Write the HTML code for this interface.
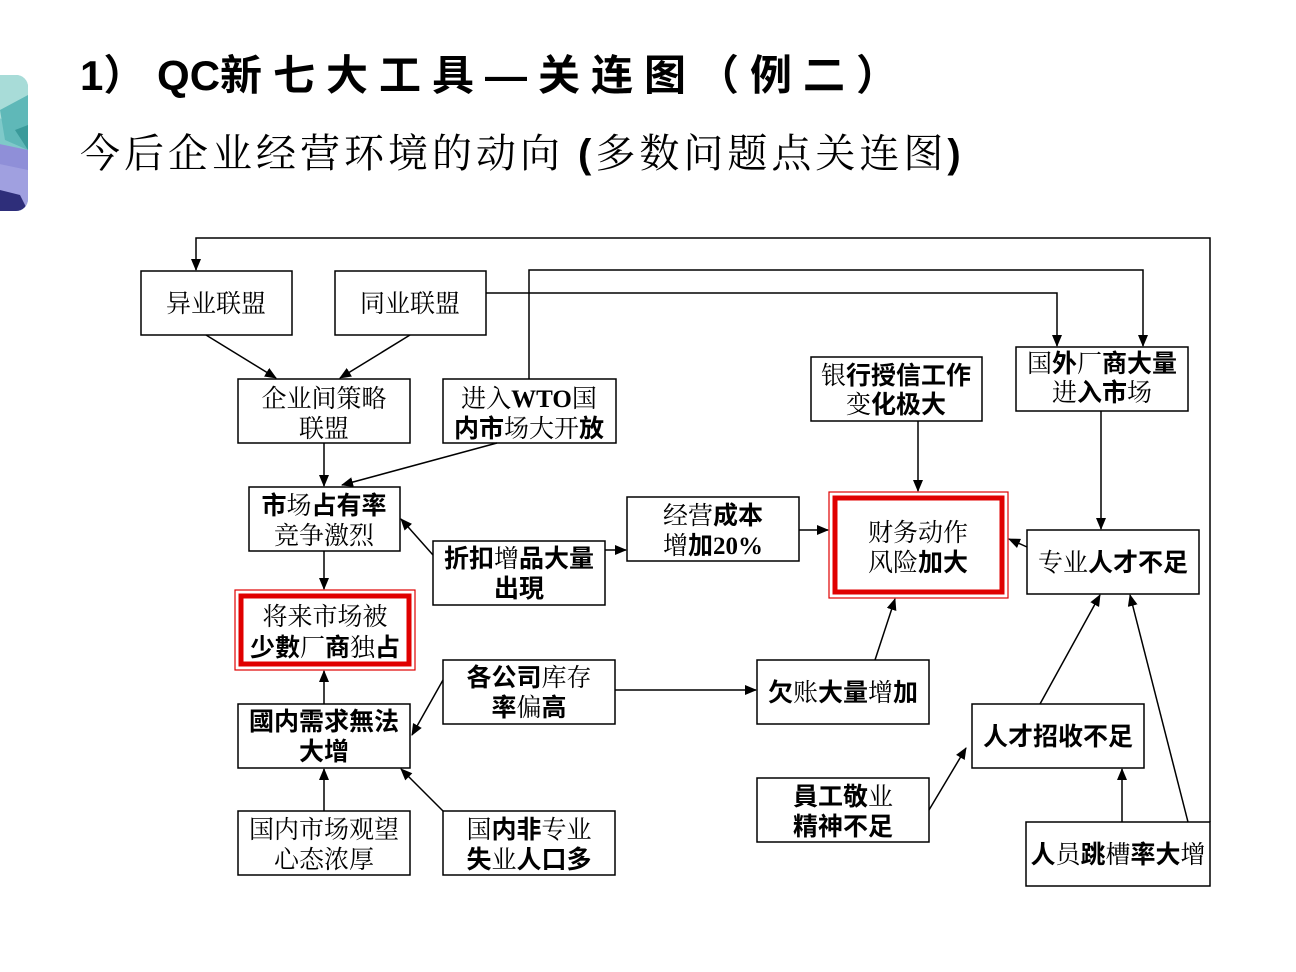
<!DOCTYPE html>
<html><head><meta charset="utf-8"><style>
html,body{margin:0;padding:0;background:#fff;width:1296px;height:972px;overflow:hidden}
.r{font-family:"Liberation Serif","Noto Serif CJK SC",serif;font-weight:normal}
.b{font-family:"Liberation Sans","Noto Sans CJK SC",sans-serif;font-weight:bold}
text{font-size:25px;fill:#000}
</style></head><body>
<svg width="1296" height="972" viewBox="0 0 1296 972" xmlns="http://www.w3.org/2000/svg">
<defs>
<marker id="a" markerWidth="12" markerHeight="10" refX="11" refY="5" orient="auto" markerUnits="userSpaceOnUse">
<path d="M0,0 L12,5 L0,10 z" fill="#000"/></marker>
<clipPath id="dc"><rect x="-20" y="75" width="48" height="136" rx="12"/></clipPath>
</defs>
<g clip-path="url(#dc)">
<rect x="-20" y="75" width="48" height="136" fill="#7fc9c9"/>
<polygon points="-20,75 28,75 28,130 -20,110" fill="#a8dcd8"/>
<polygon points="0,110 28,95 28,150 5,140" fill="#5fb8b8"/>
<polygon points="15,130 28,125 28,150" fill="#3a9a9a"/>
<polygon points="-20,140 28,150 28,180 -20,175" fill="#8f8fd8"/>
<polygon points="-20,160 28,170 28,211 -20,211" fill="#a0a0e0"/>
<polygon points="-20,185 20,195 28,211 -20,211" fill="#2e2e7a"/>
</g>
<text x="80" y="90" class="b" style="font-size:42px">1） QC<tspan style="letter-spacing:11px">新七大工具—关连图（例二）</tspan></text>
<text x="80" y="167" class="r" style="font-size:40px;letter-spacing:4px">今后企业经营环境的动向 <tspan class="b">(</tspan>多数问题点关连图<tspan class="b">)</tspan></text>

<g fill="none" stroke="#000" stroke-width="1.5">
<rect x="141" y="271" width="151" height="64"/>
<rect x="335" y="271" width="151" height="64"/>
<rect x="238" y="379" width="172" height="64"/>
<rect x="443" y="379" width="173" height="64"/>
<rect x="249" y="487" width="151" height="64"/>
<rect x="433" y="541" width="172" height="64"/>
<rect x="627" y="497" width="172" height="64"/>
<rect x="811" y="357" width="171" height="64"/>
<rect x="1016" y="347" width="172" height="64"/>
<rect x="1027" y="530" width="172" height="64"/>
<rect x="443" y="660" width="172" height="64"/>
<rect x="757" y="660" width="172" height="64"/>
<rect x="238" y="704" width="172" height="64"/>
<rect x="972" y="704" width="172" height="64"/>
<rect x="757" y="778" width="172" height="64"/>
<rect x="238" y="811" width="172" height="64"/>
<rect x="443" y="811" width="172" height="64"/>
<rect x="1026" y="822" width="184" height="64"/>
</g>
<g fill="none" stroke="#e00000">
<rect x="235" y="590" width="180" height="80" stroke-width="1.2"/>
<rect x="241" y="596" width="168" height="68" stroke-width="5"/>
<rect x="829" y="492" width="179" height="106" stroke-width="1.2"/>
<rect x="835" y="498" width="167" height="94" stroke-width="5"/>
</g>

<g fill="none" stroke="#000" stroke-width="1.5" marker-end="url(#a)">
<polyline points="1210,822 1210,238 196,238 196,270"/>
<polyline points="529,379 529,270 1143,270 1143,346"/>
<polyline points="486,293 1057,293 1057,346"/>
<line x1="206" y1="335" x2="276" y2="378"/>
<line x1="410" y1="335" x2="340" y2="378"/>
<line x1="324" y1="443" x2="324" y2="486"/>
<line x1="497" y1="443" x2="342" y2="485"/>
<line x1="324" y1="551" x2="324" y2="589"/>
<line x1="433" y1="555" x2="401" y2="519"/>
<line x1="605" y1="550" x2="626" y2="550"/>
<line x1="799" y1="530" x2="828" y2="530"/>
<line x1="918" y1="421" x2="918" y2="491"/>
<line x1="1101" y1="411" x2="1101" y2="529"/>
<line x1="1027" y1="547" x2="1009" y2="539"/>
<line x1="875" y1="660" x2="895" y2="599"/>
<line x1="615" y1="690" x2="756" y2="690"/>
<line x1="443" y1="680" x2="412" y2="735"/>
<line x1="324" y1="704" x2="324" y2="671"/>
<line x1="324" y1="811" x2="324" y2="769"/>
<line x1="443" y1="811" x2="401" y2="769"/>
<line x1="929" y1="810" x2="966" y2="748"/>
<line x1="1040" y1="704" x2="1100" y2="595"/>
<line x1="1188" y1="822" x2="1130" y2="595"/>
<line x1="1122" y1="822" x2="1122" y2="769"/>
</g>

<g text-anchor="middle">
<text x="216" y="312" class="r">异业联盟</text>
<text x="410" y="312" class="r">同业联盟</text>
<text x="324" y="407" class="r">企业间策略</text>
<text x="324" y="437" class="r">联盟</text>
<text x="529" y="407" class="r">进入<tspan class="r" style="font-weight:bold">WTO</tspan>国</text>
<text x="529" y="437"><tspan class="b">内市</tspan><tspan class="r">场大开</tspan><tspan class="b">放</tspan></text>
<text x="324" y="514"><tspan class="b">市</tspan><tspan class="r">场</tspan><tspan class="b">占有率</tspan></text>
<text x="324" y="544" class="r">竞争激烈</text>
<text x="325" y="625" class="r">将来市场被</text>
<text x="325" y="656"><tspan class="b">少數</tspan><tspan class="r">厂</tspan><tspan class="b">商</tspan><tspan class="r">独</tspan><tspan class="b">占</tspan></text>
<text x="519" y="567"><tspan class="b">折扣</tspan><tspan class="r">增</tspan><tspan class="b">品大量</tspan></text>
<text x="519" y="597" class="b">出現</text>
<text x="713" y="524"><tspan class="r">经营</tspan><tspan class="b">成本</tspan></text>
<text x="713" y="554"><tspan class="r">增</tspan><tspan class="b">加</tspan><tspan class="r" style="font-weight:bold">20%</tspan></text>
<text x="918" y="541" class="r">财务动作</text>
<text x="918" y="571"><tspan class="r">风险</tspan><tspan class="b">加大</tspan></text>
<text x="896" y="384"><tspan class="r">银</tspan><tspan class="b">行授信工作</tspan></text>
<text x="896" y="413"><tspan class="r">变</tspan><tspan class="b">化极大</tspan></text>
<text x="1102" y="372"><tspan class="r">国</tspan><tspan class="b">外</tspan><tspan class="r">厂</tspan><tspan class="b">商大量</tspan></text>
<text x="1102" y="401"><tspan class="r">进</tspan><tspan class="b">入市</tspan><tspan class="r">场</tspan></text>
<text x="1113" y="571"><tspan class="r">专业</tspan><tspan class="b">人才不足</tspan></text>
<text x="529" y="686"><tspan class="b">各公司</tspan><tspan class="r">库存</tspan></text>
<text x="529" y="716"><tspan class="b">率</tspan><tspan class="r">偏</tspan><tspan class="b">高</tspan></text>
<text x="843" y="701"><tspan class="b">欠</tspan><tspan class="r">账</tspan><tspan class="b">大量</tspan><tspan class="r">增</tspan><tspan class="b">加</tspan></text>
<text x="324" y="730" class="b">國内需求無法</text>
<text x="324" y="760" class="b">大增</text>
<text x="1058" y="745" class="b">人才招收不足</text>
<text x="843" y="805"><tspan class="b">員工敬</tspan><tspan class="r">业</tspan></text>
<text x="843" y="835" class="b">精神不足</text>
<text x="324" y="838" class="r">国内市场观望</text>
<text x="324" y="868" class="r">心态浓厚</text>
<text x="529" y="838"><tspan class="r">国</tspan><tspan class="b">内非</tspan><tspan class="r">专业</tspan></text>
<text x="529" y="868"><tspan class="b">失</tspan><tspan class="r">业</tspan><tspan class="b">人口多</tspan></text>
<text x="1118" y="863"><tspan class="b">人</tspan><tspan class="r">员</tspan><tspan class="b">跳</tspan><tspan class="r">槽</tspan><tspan class="b">率大</tspan><tspan class="r">增</tspan></text>
</g>
</svg>
</body></html>
